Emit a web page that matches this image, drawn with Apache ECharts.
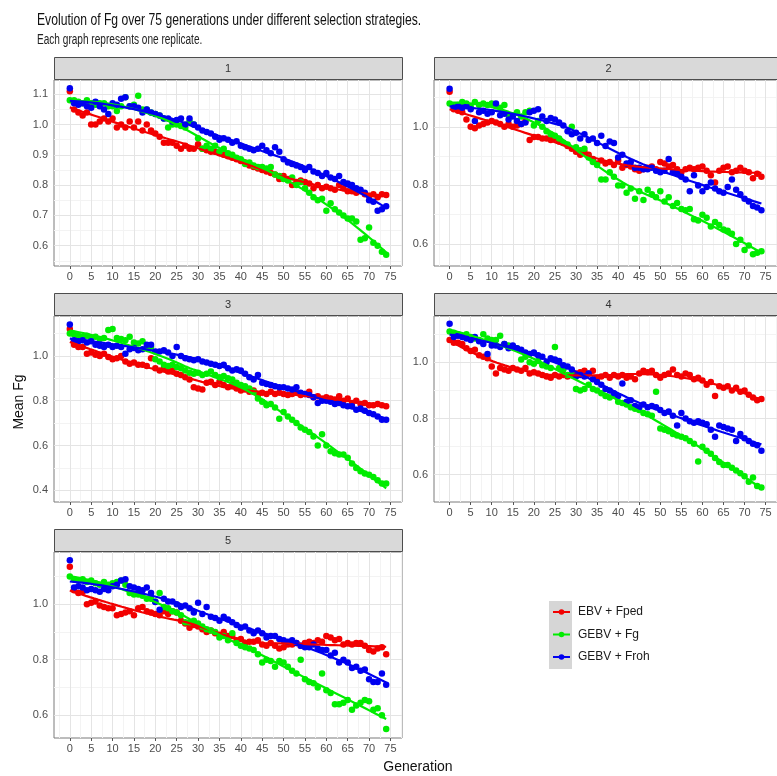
<!DOCTYPE html>
<html><head><meta charset="utf-8">
<script src="https://cdn.jsdelivr.net/npm/echarts@6/dist/echarts.min.js"></script>
<style>html,body{margin:0;padding:0;background:#fff}#c{width:777px;height:776px}</style>
</head><body><div id="c"></div>
<script>
// ---------------- DATA ----------------
const generations = Array.from({length: 75}, (_, i) => i); // generation 0..74
const strategies = ['EBV + Fped', 'GEBV + Fg', 'GEBV + Froh'];
const replicates = ['1', '2', '3', '4', '5'];
const xTicks = [0,5,10,15,20,25,30,35,40,45,50,55,60,65,70,75];

// Replicate 1
const r1_EBV_Fped = [1.11,1.05,1.04,1.03,1.04,1.00,1.00,1.01,1.02,1.01,
 1.02,0.99,1.00,0.99,1.01,0.99,1.01,0.98,1.00,0.98,
 0.97,0.96,0.94,0.94,0.94,0.93,0.92,0.93,0.92,0.92,
 0.935,0.92,0.915,0.91,0.91,0.905,0.90,0.895,0.89,0.885,
 0.88,0.875,0.865,0.86,0.855,0.85,0.845,0.84,0.835,0.82,
 0.83,0.82,0.80,0.81,0.815,0.81,0.805,0.79,0.80,0.79,
 0.795,0.79,0.785,0.80,0.79,0.78,0.78,0.775,0.78,0.77,
 0.765,0.77,0.76,0.77,0.767];
const r1_GEBV_Fg = [1.08,1.08,1.075,1.07,1.08,1.07,1.065,1.07,1.07,1.06,
 1.06,1.045,1.06,1.09,1.06,1.065,1.095,1.05,1.05,1.04,
 1.035,1.03,1.02,0.99,1.0,1.0,0.995,0.99,1.01,1.0,
 0.955,0.92,0.93,0.92,0.93,0.91,0.92,0.905,0.90,0.89,
 0.885,0.87,0.875,0.865,0.86,0.86,0.855,0.86,0.835,0.83,
 0.82,0.815,0.825,0.80,0.81,0.79,0.775,0.76,0.75,0.755,
 0.715,0.74,0.72,0.71,0.70,0.69,0.69,0.68,0.62,0.625,
 0.66,0.61,0.60,0.58,0.57];
const r1_GEBV_Froh = [1.12,1.07,1.065,1.07,1.06,1.055,1.075,1.06,1.05,1.035,
 1.07,1.065,1.085,1.09,1.06,1.06,1.055,1.04,1.05,1.04,
 1.035,1.03,1.02,1.02,1.01,1.015,1.02,1.00,1.02,1.0,
 0.99,0.98,0.975,0.97,0.96,0.95,0.955,0.95,0.94,0.945,
 0.93,0.925,0.92,0.915,0.92,0.93,0.915,0.905,0.925,0.91,
 0.885,0.875,0.87,0.865,0.86,0.85,0.86,0.845,0.84,0.83,
 0.84,0.825,0.82,0.83,0.81,0.805,0.80,0.79,0.785,0.775,
 0.75,0.745,0.715,0.72,0.73];

// Replicate 2
const r2_EBV_Fped = [1.12,1.06,1.055,1.05,1.025,1.0,0.995,1.005,1.01,1.015,
 1.02,1.015,1.01,1.0,1.01,1.0,1.005,1.01,1.02,0.955,
 0.965,0.965,0.96,0.96,0.955,0.96,0.95,0.945,0.935,0.925,
 0.915,0.905,0.915,0.905,0.89,0.875,0.885,0.875,0.88,0.87,
 0.885,0.86,0.87,0.865,0.855,0.85,0.855,0.86,0.865,0.855,
 0.88,0.875,0.865,0.87,0.855,0.845,0.855,0.86,0.855,0.86,
 0.865,0.85,0.835,0.81,0.85,0.86,0.865,0.845,0.85,0.86,
 0.85,0.845,0.825,0.84,0.83];
const r2_GEBV_Fg = [1.08,1.07,1.075,1.085,1.08,1.07,1.085,1.075,1.08,1.075,
 1.08,1.07,1.065,1.075,1.04,1.04,1.05,1.035,1.05,1.055,
 1.005,1.02,1.0,0.985,0.975,0.97,0.96,0.945,0.94,1.0,
 0.93,0.92,0.925,0.895,0.88,0.87,0.82,0.82,0.845,0.83,
 0.80,0.80,0.775,0.79,0.755,0.78,0.75,0.785,0.77,0.76,
 0.78,0.745,0.76,0.73,0.74,0.72,0.715,0.72,0.685,0.68,
 0.70,0.69,0.66,0.675,0.665,0.65,0.645,0.635,0.60,0.615,
 0.58,0.595,0.565,0.57,0.575];
const r2_GEBV_Froh = [1.13,1.065,1.07,1.065,1.07,1.06,1.02,1.05,1.055,1.045,
 1.05,1.08,1.04,1.045,1.025,1.035,1.02,1.01,1.015,1.05,
 1.055,1.06,1.035,1.02,1.03,1.025,1.015,1.005,0.985,0.975,
 0.98,0.96,0.975,0.955,0.96,0.945,0.97,0.935,0.95,0.945,
 0.895,0.905,0.875,0.88,0.86,0.86,0.855,0.855,0.86,0.85,
 0.845,0.85,0.89,0.845,0.84,0.83,0.82,0.78,0.835,0.80,
 0.78,0.795,0.81,0.79,0.78,0.775,0.795,0.82,0.785,0.77,
 0.755,0.745,0.73,0.725,0.715];

// Replicate 3
const r3_EBV_Fped = [1.12,1.05,1.04,1.04,1.01,1.015,1.005,1.0,1.01,0.995,
 0.985,0.99,1.0,0.975,0.965,0.97,0.96,0.96,0.955,0.99,
 0.945,0.935,0.945,0.93,0.935,0.92,0.915,0.905,0.895,0.86,
 0.855,0.85,0.88,0.885,0.87,0.885,0.87,0.86,0.87,0.855,
 0.845,0.85,0.84,0.845,0.825,0.835,0.83,0.84,0.83,0.835,
 0.83,0.825,0.83,0.835,0.825,0.83,0.84,0.815,0.82,0.81,
 0.815,0.81,0.805,0.82,0.80,0.81,0.79,0.80,0.785,0.79,
 0.78,0.78,0.785,0.78,0.775];
const r3_GEBV_Fg = [1.10,1.095,1.09,1.085,1.09,1.08,1.085,1.075,1.08,1.115,
 1.12,1.08,1.075,1.07,1.085,1.06,1.055,1.065,1.035,1.04,
 0.985,0.975,0.96,0.955,0.96,0.95,0.945,0.935,0.925,0.92,
 0.925,0.915,0.92,0.93,0.915,0.905,0.91,0.90,0.895,0.88,
 0.87,0.865,0.855,0.84,0.81,0.795,0.78,0.785,0.77,0.72,
 0.75,0.73,0.715,0.70,0.68,0.67,0.66,0.64,0.60,0.65,
 0.60,0.575,0.565,0.56,0.56,0.545,0.52,0.50,0.485,0.475,
 0.47,0.46,0.445,0.43,0.43];
const r3_GEBV_Froh = [1.14,1.07,1.065,1.07,1.06,1.065,1.05,1.045,1.04,1.05,
 1.04,1.045,1.04,1.01,1.03,1.035,1.025,1.03,1.05,1.05,
 1.02,1.02,1.025,1.015,1.0,1.04,1.0,0.99,0.985,0.98,
 0.985,0.975,0.97,0.965,0.96,0.955,0.96,0.945,0.935,0.94,
 0.935,0.92,0.905,0.895,0.915,0.88,0.875,0.87,0.865,0.86,
 0.86,0.855,0.85,0.86,0.835,0.83,0.825,0.815,0.79,0.80,
 0.80,0.795,0.785,0.79,0.78,0.775,0.775,0.76,0.765,0.755,
 0.745,0.74,0.73,0.715,0.715];

// Replicate 4
const r4_EBV_Fped = [1.08,1.07,1.07,1.065,1.05,1.04,1.045,1.025,1.02,1.015,
 0.985,0.96,0.98,0.975,0.97,0.98,0.975,0.97,0.98,0.96,
 0.965,0.96,0.955,0.95,0.945,0.955,0.95,0.955,0.95,0.955,
 0.96,0.965,0.97,0.96,0.97,0.945,0.95,0.955,0.945,0.955,
 0.95,0.955,0.945,0.95,0.94,0.96,0.97,0.965,0.97,0.955,
 0.945,0.955,0.96,0.975,0.955,0.95,0.96,0.955,0.94,0.945,
 0.935,0.92,0.93,0.88,0.915,0.91,0.915,0.90,0.91,0.895,
 0.90,0.885,0.875,0.865,0.87];
const r4_GEBV_Fg = [1.11,1.105,1.10,1.095,1.10,1.09,1.085,1.08,1.10,1.085,
 1.08,1.08,1.095,1.065,1.06,1.055,1.05,1.01,1.02,1.0,
 0.995,1.005,0.99,0.985,0.98,1.055,0.98,0.975,0.955,0.955,
 0.905,0.90,0.905,0.92,0.905,0.90,0.89,0.88,0.875,0.885,
 0.86,0.855,0.85,0.84,0.835,0.83,0.82,0.815,0.81,0.895,
 0.765,0.76,0.755,0.745,0.74,0.735,0.73,0.72,0.71,0.647,
 0.70,0.685,0.675,0.66,0.645,0.635,0.635,0.625,0.615,0.605,
 0.595,0.575,0.59,0.56,0.555];
const r4_GEBV_Froh = [1.137,1.09,1.095,1.09,1.085,1.08,1.09,1.075,1.065,1.03,
 1.06,1.06,1.055,1.065,1.05,1.06,1.05,1.045,1.035,1.03,
 1.035,1.025,1.02,1.0,1.015,1.01,1.005,0.99,0.985,0.975,
 0.95,0.955,0.95,0.96,0.94,0.93,0.92,0.905,0.9,0.89,
 0.88,0.925,0.86,0.865,0.845,0.84,0.85,0.84,0.845,0.84,
 0.83,0.82,0.825,0.81,0.775,0.82,0.80,0.79,0.785,0.79,
 0.785,0.78,0.76,0.735,0.775,0.77,0.765,0.76,0.72,0.745,
 0.73,0.72,0.71,0.705,0.685];

// Replicate 5
const r5_EBV_Fped = [1.135,1.05,1.04,1.045,1.0,1.005,1.01,0.995,0.99,0.985,
 0.985,0.96,0.965,0.97,0.975,0.96,0.985,0.99,0.975,0.97,
 0.965,0.96,0.975,0.965,0.975,0.97,0.94,0.93,0.915,0.925,
 0.92,0.91,0.90,0.905,0.895,0.89,0.9,0.885,0.885,0.87,
 0.875,0.86,0.865,0.865,0.87,0.855,0.85,0.86,0.85,0.84,
 0.845,0.855,0.855,0.86,0.85,0.86,0.865,0.86,0.87,0.865,
 0.885,0.88,0.87,0.875,0.855,0.86,0.855,0.86,0.86,0.85,
 0.835,0.83,0.84,0.845,0.82];
const r5_GEBV_Fg = [1.10,1.09,1.085,1.09,1.08,1.085,1.075,1.07,1.08,1.07,
 1.075,1.08,1.085,1.07,1.04,1.035,1.035,1.03,1.02,1.02,
 1.01,1.04,0.99,0.985,0.975,0.97,0.96,0.935,0.935,0.94,
 0.93,0.92,0.91,0.905,0.90,0.88,0.885,0.87,0.895,0.86,
 0.85,0.845,0.84,0.835,0.82,0.79,0.80,0.795,0.775,0.795,
 0.79,0.775,0.76,0.75,0.80,0.73,0.72,0.715,0.70,0.75,
 0.69,0.68,0.64,0.64,0.645,0.655,0.62,0.635,0.645,0.655,
 0.65,0.62,0.625,0.60,0.55];
const r5_GEBV_Froh = [1.158,1.06,1.065,1.06,1.05,1.055,1.05,1.045,1.055,1.05,
 1.065,1.07,1.085,1.09,1.065,1.06,1.055,1.05,1.06,1.04,
 1.008,0.98,1.02,1.01,1.01,1.0,0.99,0.995,0.985,0.97,
 1.005,0.965,0.99,0.955,0.95,0.94,0.955,0.945,0.935,0.925,
 0.915,0.92,0.905,0.895,0.905,0.895,0.88,0.885,0.885,0.875,
 0.87,0.865,0.87,0.86,0.85,0.845,0.845,0.855,0.84,0.835,
 0.835,0.815,0.825,0.79,0.80,0.79,0.77,0.775,0.76,0.765,
 0.73,0.72,0.72,0.75,0.71];

// y-axis limits and breaks per replicate (free y scales)
const yLimits = [[0.533, 1.147], [0.525, 1.160], [0.348, 1.178], [0.503, 1.165], [0.518, 1.188]];
const yBreaks = [[0.6,0.7,0.8,0.9,1.0,1.1], [0.6,0.8,1.0], [0.4,0.6,0.8,1.0], [0.6,0.8,1.0], [0.6,0.8,1.0]];
const yMinorBreaks = [[0.55,0.65,0.75,0.85,0.95,1.05], [0.7,0.9,1.1], [0.5,0.7,0.9,1.1], [0.7,0.9,1.1], [0.7,0.9,1.1]];
const xMinorBreaks = [-2.5,2.5,7.5,12.5,17.5,22.5,27.5,32.5,37.5,42.5,47.5,52.5,57.5,62.5,67.5,72.5,77.5];

const panelData = [
  [r1_EBV_Fped, r1_GEBV_Fg, r1_GEBV_Froh],
  [r2_EBV_Fped, r2_GEBV_Fg, r2_GEBV_Froh],
  [r3_EBV_Fped, r3_GEBV_Fg, r3_GEBV_Froh],
  [r4_EBV_Fped, r4_GEBV_Fg, r4_GEBV_Froh],
  [r5_EBV_Fped, r5_GEBV_Fg, r5_GEBV_Froh]
];

// ---------------- STYLE / LAYOUT ----------------
const colors = ['#f20000', '#00ec00', '#0000f0'];
const FONT = '"Liberation Sans", Arial, Helvetica, sans-serif';
const panelBoxes = [ // left, top(plot), width, height
  {x: 54, y: 80, w: 348, h: 186},
  {x: 434, y: 80, w: 349, h: 186},
  {x: 54, y: 316, w: 348, h: 186},
  {x: 434, y: 316, w: 349, h: 186},
  {x: 54, y: 552, w: 348, h: 186}
];
const STRIP_H = 23;

// loess (local quadratic, tricube weights, span 0.75) like geom_smooth
function loess(xs, ys, span, outXs) {
  const n = xs.length, q = Math.floor(span * n);
  return outXs.map(x0 => {
    const d = xs.map(x => Math.abs(x - x0));
    const h = d.slice().sort((a, b) => a - b)[q - 1];
    let S = [0,0,0,0,0], T = [0,0,0];
    for (let i = 0; i < n; i++) {
      const r = d[i] / h;
      if (r >= 1) continue;
      const w = Math.pow(1 - r * r * r, 3);
      const u = xs[i] - x0;
      let p = w;
      for (let k = 0; k < 5; k++) { S[k] += p; if (k < 3) T[k] += p * ys[i]; p *= u; }
    }
    const A = [[S[0],S[1],S[2]],[S[1],S[2],S[3]],[S[2],S[3],S[4]]];
    const det = m => m[0][0]*(m[1][1]*m[2][2]-m[1][2]*m[2][1]) - m[0][1]*(m[1][0]*m[2][2]-m[1][2]*m[2][0]) + m[0][2]*(m[1][0]*m[2][1]-m[1][1]*m[2][0]);
    const D = det(A);
    const A0 = [[T[0],S[1],S[2]],[T[1],S[2],S[3]],[T[2],S[3],S[4]]];
    return [x0, det(A0) / D];
  });
}
const smoothX = Array.from({length: 80}, (_, i) => i * 74 / 79);

const grids = [], xAxes = [], yAxes = [], lineSeries = [], pointSeries = [], gridSeries = [], graphics = [];

panelBoxes.forEach((b, p) => {
  grids.push({left: b.x, top: b.y, width: b.w, height: b.h, show: true,
    borderColor: '#7a7a7a', borderWidth: 1, backgroundColor: '#fff', containLabel: false});
  xAxes.push({type: 'value', gridIndex: p, min: -3.7, max: 77.7,
    axisLine: {show: false}, splitLine: {show: false},
    axisTick: {show: true, length: 3, lineStyle: {color: '#555'}, customValues: xTicks},
    axisLabel: {customValues: xTicks, color: '#4d4d4d', fontSize: 11, margin: 5, fontFamily: FONT}});
  yAxes.push({type: 'value', gridIndex: p, min: yLimits[p][0], max: yLimits[p][1],
    axisLine: {show: false}, splitLine: {show: false},
    axisTick: {show: true, length: 3, lineStyle: {color: '#555'}, customValues: yBreaks[p]},
    axisLabel: {customValues: yBreaks[p], color: '#4d4d4d', fontSize: 11, margin: 6, fontFamily: FONT,
      formatter: v => v.toFixed(1)}});
  // grid lines (major + minor) via markLine, kept underneath the marks
  const ml = [];
  xMinorBreaks.forEach(v => ml.push({xAxis: v, lineStyle: {color: '#f3f3f3', width: 1}}));
  yMinorBreaks[p].forEach(v => ml.push({yAxis: v, lineStyle: {color: '#f3f3f3', width: 1}}));
  xTicks.forEach(v => ml.push({xAxis: v, lineStyle: {color: '#e4e4e4', width: 1}}));
  yBreaks[p].forEach(v => ml.push({yAxis: v, lineStyle: {color: '#e4e4e4', width: 1}}));
  gridSeries.push({type: 'scatter', name: '_grid' + p, xAxisIndex: p, yAxisIndex: p, data: [], z: 1, silent: true,
    markLine: {silent: true, z: 1, zlevel: 0, symbol: ['none', 'none'], label: {show: false}, animation: false,
      emphasis: {disabled: true}, lineStyle: {type: 'solid'}, data: ml}});
  panelData[p].forEach((ys, s) => {
    lineSeries.push({type: 'line', name: strategies[s], xAxisIndex: p, yAxisIndex: p,
      data: loess(generations, ys, 0.75, smoothX), showSymbol: false, symbol: 'circle', symbolSize: 6,
      lineStyle: {color: colors[s], width: 2.2}, itemStyle: {color: colors[s]}, z: 4, silent: true, animation: false});
    pointSeries.push({type: 'scatter', name: strategies[s], xAxisIndex: p, yAxisIndex: p,
      data: generations.map((g, i) => [g, ys[i]]), symbolSize: 6.5,
      itemStyle: {color: colors[s], opacity: 1}, z: 3, animation: false});
  });
  // strip
  graphics.push({type: 'rect', z: 5, shape: {x: b.x + 0.5, y: b.y - STRIP_H + 0.5, width: b.w, height: STRIP_H - 1},
    style: {fill: '#d9d9d9', stroke: '#4d4d4d', lineWidth: 1}});
  graphics.push({type: 'text', z: 6, style: {text: replicates[p], x: b.x + b.w / 2, y: b.y - STRIP_H / 2,
    align: 'center', verticalAlign: 'middle', font: '11px ' + FONT, fill: '#333'}});
});

// Titles
graphics.push({type: 'text', x: 37, y: 20, scaleX: 0.715, z: 6,
  style: {text: 'Evolution of Fg over 75 generations under different selection strategies.', x: 0, y: 0,
    verticalAlign: 'middle', font: '17px ' + FONT, fill: '#111'}});
graphics.push({type: 'text', x: 37, y: 40, scaleX: 0.72, z: 6,
  style: {text: 'Each graph represents one replicate.', x: 0, y: 0,
    verticalAlign: 'middle', font: '14px ' + FONT, fill: '#222'}});
// axis titles
graphics.push({type: 'text', x: 418, y: 767, z: 6,
  style: {text: 'Generation', x: 0, y: 0, align: 'center', verticalAlign: 'middle', font: '14px ' + FONT, fill: '#111'}});
graphics.push({type: 'text', x: 19, y: 402, rotation: Math.PI / 2, z: 6,
  style: {text: 'Mean Fg', x: 0, y: 0, align: 'center', verticalAlign: 'middle', font: '14px ' + FONT, fill: '#111'}});
// legend key background
graphics.push({type: 'rect', z: 0, shape: {x: 549, y: 601, width: 23, height: 68}, style: {fill: '#d6d6d6'}});

const legendCenters = [612, 634.5, 657];
const legends = strategies.map((n, k) => ({
  data: [n], left: 552, top: legendCenters[k] - 7, orient: 'vertical', padding: 0, itemGap: 0,
  itemWidth: 17, itemHeight: 7, z: 10,
  textStyle: {fontSize: 12, color: '#1a1a1a', fontFamily: FONT, lineHeight: 14, padding: [0, 0, 0, 3]}
}));

const chart = echarts.init(document.getElementById('c'), null, {renderer: 'canvas'});
chart.setOption({
  animation: false,
  backgroundColor: '#fff',
  textStyle: {fontFamily: FONT},
  grid: grids, xAxis: xAxes, yAxis: yAxes,
  legend: legends,
  series: [...lineSeries, ...pointSeries, ...gridSeries],
  graphic: {elements: graphics}
});
</script></body></html>
